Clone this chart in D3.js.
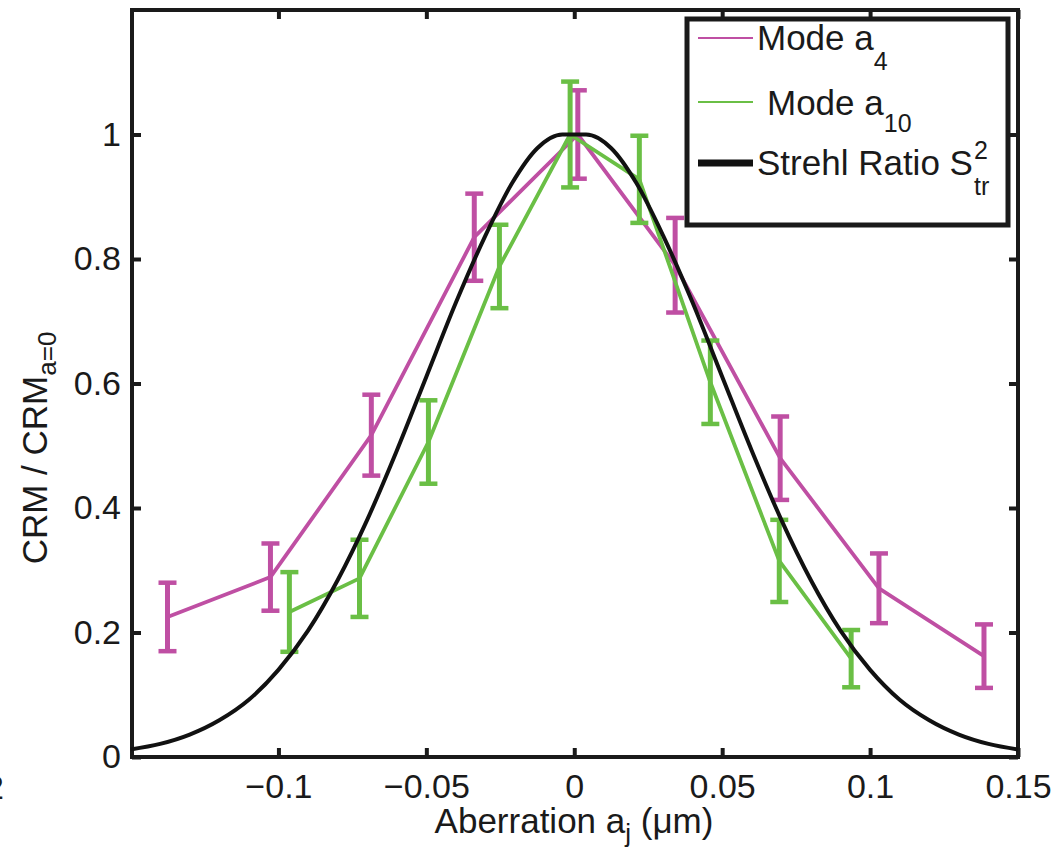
<!DOCTYPE html>
<html>
<head>
    <meta charset="UTF-8">
    <title></title>
    <style>
        body { margin: 0; background: #fff; }
        text { font-family: "Liberation Sans", Arial, Helvetica, sans-serif; fill: #1a1a1a; }
    </style>
</head>
<body>
<div id="chart"></div>
<script src="https://cdn.jsdelivr.net/npm/d3@7"></script>
<script>
    // Mode a4 (magenta)
    var modeA4X = [-0.1375, -0.1027, -0.0686, -0.0338, 0.0012, 0.0341, 0.0696, 0.1030, 0.1385];
    var modeA4Y = [0.225, 0.289, 0.517, 0.835, 1.0, 0.790, 0.480, 0.271, 0.162];
    var modeA4Err = [0.055, 0.054, 0.065, 0.070, 0.071, 0.076, 0.067, 0.056, 0.051];

    // Mode a10 (green)
    var modeA10X = [-0.0963, -0.0726, -0.0493, -0.0253, -0.0014, 0.0220, 0.0460, 0.0693, 0.0936];
    var modeA10Y = [0.233, 0.287, 0.506, 0.788, 1.0, 0.928, 0.602, 0.315, 0.158];
    var modeA10Err = [0.064, 0.062, 0.067, 0.067, 0.085, 0.070, 0.067, 0.066, 0.046];

    // Strehl ratio curve
    var strehlX = [-0.15, -0.14, -0.13, -0.12, -0.11, -0.10, -0.09, -0.08, -0.07, -0.06, -0.05, -0.04, -0.03, -0.021, -0.0125, -0.004,
        0.004, 0.0125, 0.021, 0.03, 0.04, 0.05, 0.06, 0.07, 0.08, 0.09, 0.10, 0.11, 0.12, 0.13, 0.14, 0.15];
    var strehlY = [0.012, 0.021, 0.036, 0.059, 0.092, 0.140, 0.203, 0.284, 0.381, 0.492, 0.611, 0.730, 0.838, 0.922, 0.978, 1.0,
        1.0, 0.978, 0.922, 0.838, 0.730, 0.611, 0.492, 0.381, 0.284, 0.203, 0.140, 0.092, 0.059, 0.036, 0.021, 0.012];

    var xTicks = [-0.1, -0.05, 0, 0.05, 0.1, 0.15];
    var yTicks = [0, 0.2, 0.4, 0.6, 0.8, 1];

    var width = 1060, height = 849;
    var pLeft = 132, pRight = 1018, pTop = 10, pBottom = 757;
    var magenta = "#bf4fa3", green = "#6abf45";

    var svg = d3.select("#chart").append("svg")
        .attr("width", width).attr("height", height);
    svg.append("rect").attr("width", width).attr("height", height).attr("fill", "#fff");

    var x = d3.scaleLinear().domain([-0.1495, 0.15]).range([pLeft, pRight]);
    var y = d3.scaleLinear().domain([0, 1.2]).range([pBottom, pTop]);

    function fmt(d) {
        return (d < 0 ? "\u2212" : "") + Math.abs(d);
    }

    // axes with inward ticks
    var gx = svg.append("g").attr("transform", "translate(0," + pBottom + ")")
        .call(d3.axisBottom(x).tickValues(xTicks).tickSize(-9).tickFormat(fmt));
    gx.selectAll("text").attr("y", 17).attr("dy", "0.72em");
    svg.append("g").attr("transform", "translate(0," + pTop + ")")
        .call(d3.axisTop(x).tickValues(xTicks).tickSize(-9).tickFormat(""));
    var gy = svg.append("g").attr("transform", "translate(" + pLeft + ",0)")
        .call(d3.axisLeft(y).tickValues(yTicks).tickSize(-9).tickFormat(d3.format("")));
    gy.selectAll("text").attr("x", -11);
    svg.append("g").attr("transform", "translate(" + pRight + ",0)")
        .call(d3.axisRight(y).tickValues(yTicks).tickSize(-9).tickFormat(""));

    svg.selectAll(".domain").remove();
    svg.selectAll(".tick line").attr("stroke", "#1a1a1a").attr("stroke-width", 4);
    svg.selectAll(".tick text").style("font-size", "34px").attr("fill", "#1a1a1a")
        .style("font-family", '"Liberation Sans", Arial, sans-serif');

    svg.append("rect")
        .attr("x", pLeft).attr("y", pTop)
        .attr("width", pRight - pLeft).attr("height", pBottom - pTop)
        .attr("fill", "none").attr("stroke", "#1a1a1a").attr("stroke-width", 4);

    var line = d3.line().x(function (d) { return x(d[0]); }).y(function (d) { return y(d[1]); });

    function series(xs, ys, errs, color) {
        var pts = xs.map(function (v, i) { return [v, ys[i], errs[i]]; });
        var g = svg.append("g");
        g.append("path").datum(pts).attr("d", line)
            .attr("fill", "none").attr("stroke", color).attr("stroke-width", 3.8)
            .attr("stroke-linejoin", "round");
        var eb = g.selectAll(".eb").data(pts).join("g");
        eb.append("line")
            .attr("x1", function (d) { return x(d[0]); }).attr("x2", function (d) { return x(d[0]); })
            .attr("y1", function (d) { return y(d[1] - d[2]); }).attr("y2", function (d) { return y(d[1] + d[2]); })
            .attr("stroke", color).attr("stroke-width", 5);
        [-1, 1].forEach(function (s) {
            eb.append("line")
                .attr("x1", function (d) { return x(d[0]) - 9; }).attr("x2", function (d) { return x(d[0]) + 9; })
                .attr("y1", function (d) { return y(d[1] + s * d[2]); }).attr("y2", function (d) { return y(d[1] + s * d[2]); })
                .attr("stroke", color).attr("stroke-width", 4.5);
        });
    }

    series(modeA4X, modeA4Y, modeA4Err, magenta);
    series(modeA10X, modeA10Y, modeA10Err, green);

    var smooth = d3.line().curve(d3.curveMonotoneX)
        .x(function (d) { return x(d[0]); }).y(function (d) { return y(d[1]); });
    svg.append("path").datum(strehlX.map(function (v, i) { return [v, strehlY[i]]; }))
        .attr("d", smooth).attr("fill", "none").attr("stroke", "#111").attr("stroke-width", 4)
        .attr("stroke-linejoin", "round");

    // legend
    var lg = svg.append("g");
    lg.append("rect").attr("x", 687).attr("y", 19).attr("width", 321).attr("height", 206)
        .attr("fill", "#fff").attr("stroke", "#1a1a1a").attr("stroke-width", 5);
    lg.append("line").attr("x1", 698).attr("x2", 753).attr("y1", 38).attr("y2", 38)
        .attr("stroke", magenta).attr("stroke-width", 2);
    lg.append("line").attr("x1", 698).attr("x2", 753).attr("y1", 102).attr("y2", 102)
        .attr("stroke", green).attr("stroke-width", 2);
    lg.append("line").attr("x1", 698).attr("x2", 753).attr("y1", 163).attr("y2", 163)
        .attr("stroke", "#111").attr("stroke-width", 7);

    var t1 = lg.append("text").attr("x", 757).attr("y", 50).style("font-size", "35px");
    t1.append("tspan").text("Mode a");
    t1.append("tspan").attr("dy", 20).style("font-size", "25px").text("4");

    var t2 = lg.append("text").attr("x", 767).attr("y", 115).style("font-size", "35px");
    t2.append("tspan").text("Mode a");
    t2.append("tspan").attr("dy", 17).style("font-size", "25px").text("10");

    var t3 = lg.append("text").attr("x", 757).attr("y", 175).style("font-size", "35px").text("Strehl Ratio S");
    var sx = 757 + t3.node().getComputedTextLength() + 1;
    lg.append("text").attr("x", sx).attr("y", 159).style("font-size", "25px").text("2");
    lg.append("text").attr("x", sx).attr("y", 195).style("font-size", "25px").text("tr");

    // axis labels
    var xl = svg.append("text").attr("x", 574).attr("y", 833)
        .attr("text-anchor", "middle").style("font-size", "35px");
    xl.append("tspan").text("Aberration a");
    xl.append("tspan").attr("dy", 9).style("font-size", "26px").text("j");
    xl.append("tspan").attr("dy", -9).text(" (\u03bcm)");

    var yl = svg.append("text").attr("transform", "translate(47,448) rotate(-90)")
        .attr("text-anchor", "middle").style("font-size", "35px");
    yl.append("tspan").text("CRM / CRM");
    yl.append("tspan").attr("dy", 9).style("font-size", "26px").text("a=0");

    // stray glyph from neighbouring figure at the left edge
    svg.append("text").attr("x", -15).attr("y", 799).style("font-size", "34px").text("2");
</script>
</body>
</html>
